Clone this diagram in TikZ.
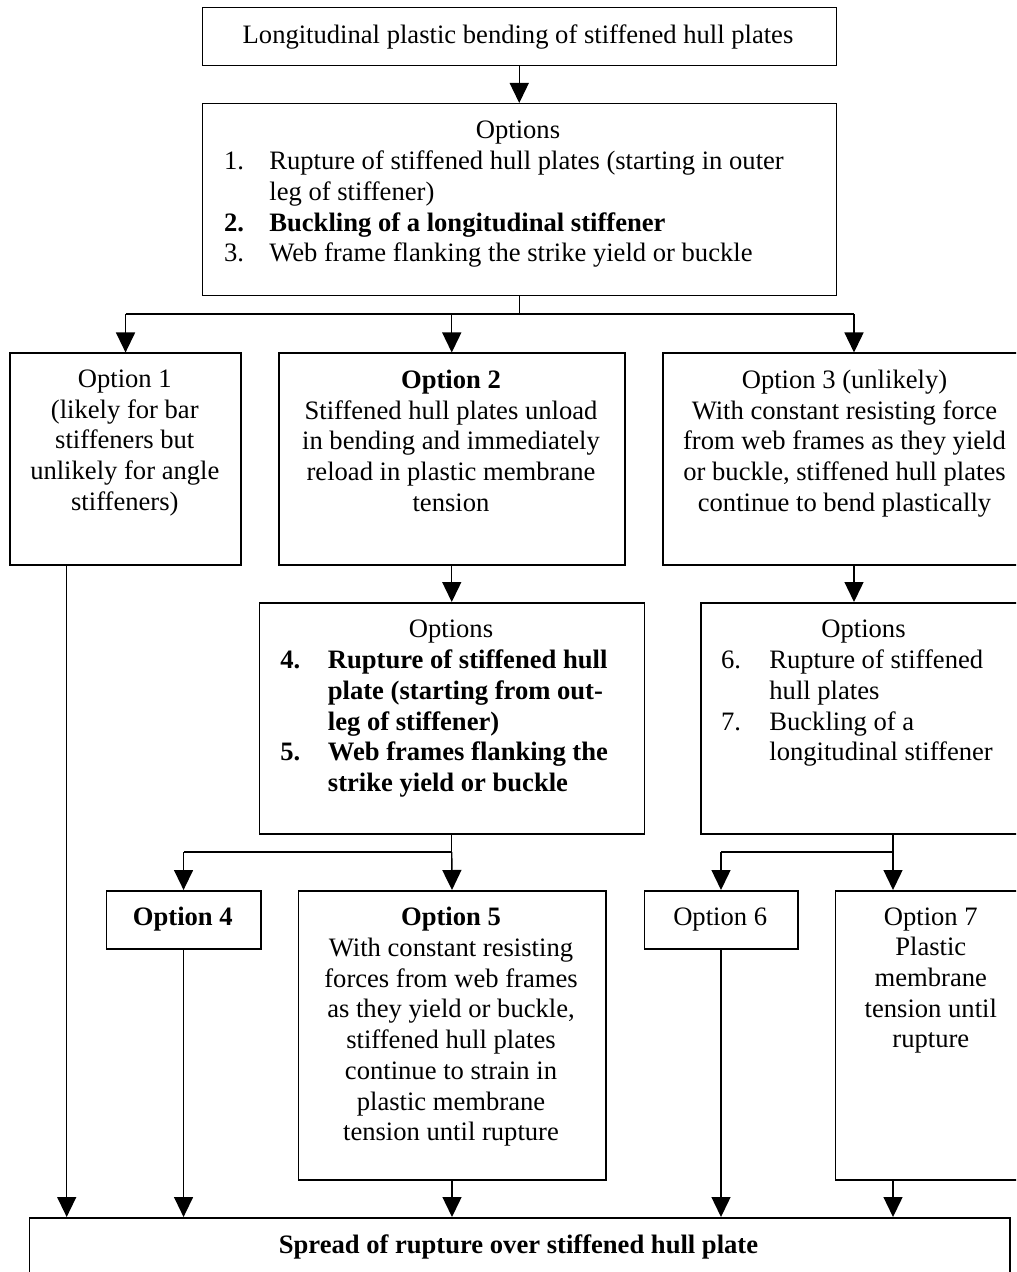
\documentclass[tikz,border=0pt]{standalone}
\usepackage{fontspec}
\setmainfont{Liberation Serif}
\usetikzlibrary{arrows.meta}
\begin{document}
\begin{tikzpicture}[x=0.5pt,y=-0.5pt,
  box/.style={draw,line width=0.75pt,inner sep=0pt,anchor=north west},
  txt/.style={anchor=north,inner sep=0pt,align=center,font=\fontsize{13.3}{15.35}\selectfont},
  lst/.style={anchor=north west,inner sep=0pt,align=left,font=\fontsize{13.3}{15.35}\selectfont},
  conn/.style={line width=0.7pt},
  arr/.style={conn,-{Triangle[length=10pt,width=9.5pt]}}]
\useasboundingbox (0,0) rectangle (1016,1272);
\clip (0,0) rectangle (1016,1272);

% boxes
\node[box,minimum width=317pt,minimum height=29.15pt] (top) at (201.5,6.7) {};
\node[box,minimum width=317pt,minimum height=96pt] (opts) at (201.5,103) {};
\node[box,minimum width=115.5pt,minimum height=105.9pt] (o1) at (9.3,352.5) {};
\node[box,minimum width=173pt,minimum height=105.9pt] (o2) at (278,352.5) {};
\node[box,minimum width=182.5pt,minimum height=105.9pt] (o3) at (662,352.5) {};
\node[box,minimum width=192.5pt,minimum height=115.5pt] (opt45) at (258.5,602) {};
\node[box,minimum width=163.5pt,minimum height=115.5pt] (opt67) at (700,602) {};
\node[box,minimum width=77.2pt,minimum height=29pt] (o4) at (105.6,890) {};
\node[box,minimum width=153.75pt,minimum height=144.5pt] (o5) at (297.5,890) {};
\node[box,minimum width=76.75pt,minimum height=29pt] (o6) at (643.5,890) {};
\node[box,minimum width=96.15pt,minimum height=144.5pt] (o7) at (834.7,890) {};
\node[box,minimum width=490.25pt,minimum height=50pt] (bot) at (28.5,1217) {};

% texts
\node[txt] (ttop) at (518,24.7) {Longitudinal plastic bending of stiffened hull plates};
\node[txt] (topts) at (518,120) {Options};
\node[lst] (lopts) at (223.6,150.7) {\makebox[22.7pt][l]{1.}Rupture of stiffened hull plates (starting in outer\\
\hspace*{22.7pt}leg of stiffener)\\
\textbf{\makebox[22.7pt][l]{2.}Buckling of a longitudinal stiffener}\\
\makebox[22.7pt][l]{3.}Web frame flanking the strike yield or buckle};

\node[txt] (to1) at (124.8,369.5) {Option 1\\(likely for bar\\stiffeners but\\unlikely for angle\\stiffeners)};
\node[txt] (to2) at (451,369.5) {\textbf{Option 2}\\Stiffened hull plates unload\\in bending and immediately\\reload in plastic membrane\\tension};
\node[txt] (to3) at (844.5,369.5) {Option 3 (unlikely)\\With constant resisting force\\from web frames as they yield\\or buckle, stiffened hull plates\\continue to bend plastically};

\node[txt] (topt45) at (451,619) {Options};
\node[lst,font=\fontsize{13.3}{15.35}\selectfont\bfseries] (lopt45) at (280,649.7) {\makebox[23.75pt][l]{4.}Rupture of stiffened hull\\
\hspace*{23.75pt}plate (starting from out-\\
\hspace*{23.75pt}leg of stiffener)\\
\makebox[23.75pt][l]{5.}Web frames flanking the\\
\hspace*{23.75pt}strike yield or buckle};

\node[txt] (topt67) at (863.5,619) {Options};
\node[lst] (lopt67) at (720.7,649.7) {\makebox[24.15pt][l]{6.}Rupture of stiffened\\
\hspace*{24.15pt}hull plates\\
\makebox[24.15pt][l]{7.}Buckling of a\\
\hspace*{24.15pt}longitudinal stiffener};

\node[txt] (to4) at (182.8,907) {\textbf{Option 4}};
\node[txt] (to5) at (451,907) {\textbf{Option 5}\\With constant resisting\\forces from web frames\\as they yield or buckle,\\stiffened hull plates\\continue to strain in\\plastic membrane\\tension until rupture};
\node[txt] (to6) at (720.2,907) {Option 6};
\node[txt] (to7) at (930.8,907) {Option 7\\Plastic\\membrane\\tension until\\rupture};
\node[txt] (tbot) at (518.5,1234) {\textbf{Spread of rupture over stiffened hull plate}};

% helper coordinates
\coordinate (y1) at (0,314);
\coordinate (o3in) at (854,352.5);
\coordinate (y2) at (0,852);
\coordinate (x7) at (893,0);
\coordinate (o1out) at (66.7,564);

% connectors
\draw[arr] (top.south) -- (opts.north);
\draw[conn] (opts.south) -- (opts.south |- y1);
\draw[conn] (o1.north |- y1) -- (o3in |- y1);
\draw[arr] (o1.north |- y1) -- (o1.north);
\draw[arr] (o2.north |- y1) -- (o2.north);
\draw[arr] (o3in |- y1) -- (o3in);
\draw[arr] (o2.south) -- (opt45.north);
\draw[arr] (o3.south -| o3in) -- (opt67.north -| o3in);
\draw[conn] (opt45.south) -- (opt45.south |- y2) -- (o4.north |- y2);
\draw[arr] (o4.north |- y2) -- (o4.north);
\draw[arr] (opt45.south |- y2) -- (o5.north);
\draw[conn] (opt67.south -| x7) -- (x7 |- y2) -- (o6.north |- y2);
\draw[arr] (o6.north |- y2) -- (o6.north);
\draw[arr] (x7 |- y2) -- (o7.north -| x7);
\draw[arr] (o1.south -| o1out) -- (bot.north -| o1out);
\draw[arr] (o4.south) -- (bot.north -| o4.south);
\draw[arr] (o5.south) -- (bot.north -| o5.south);
\draw[arr] (o6.south) -- (bot.north -| o6.south);
\draw[arr] (o7.south -| x7) -- (bot.north -| x7);
\end{tikzpicture}
\end{document}
